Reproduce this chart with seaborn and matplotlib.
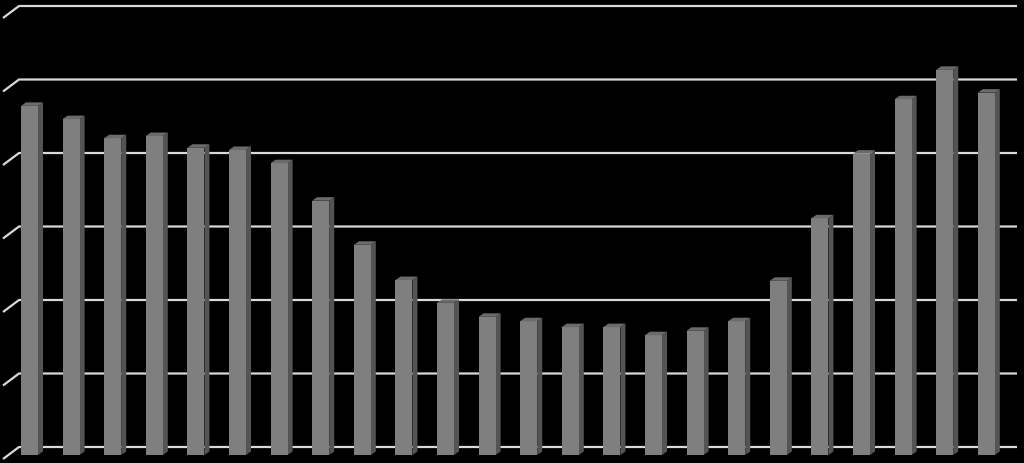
import numpy as np
import pandas as pd
import matplotlib
matplotlib.use("Agg")
import matplotlib.pyplot as plt
from matplotlib.patches import Polygon
import seaborn as sns

# --- Data (grid units) ---
CATEGORIES = [str(i) for i in range(1, 25)]
VALUES = [4.75, 4.57, 4.31, 4.34, 4.18, 4.15, 3.97, 3.46, 2.86, 2.38, 2.07, 1.88,
          1.82, 1.74, 1.74, 1.63, 1.69, 1.82, 2.37, 3.22, 4.10, 4.84, 5.24, 4.93]
GRID_TICKS = [0, 1, 2, 3, 4, 5, 6]

# --- Style ---
FRONT = "#7f7f7f"
SIDE = "#545454"
TOP = "#6b6b6b"
GRID = "#d9d9d9"
BAR_WIDTH = 0.41

# pixel scale of the figure (1024x463) used for the fake 3D offsets
PX_X = 41.6   # px per category
PX_Y = 73.5   # px per value unit


def px_x(p):
    return p / PX_X


def px_y(p):
    return p / PX_Y


def draw_chart():
    sns.set_style("dark")
    fig = plt.figure(figsize=(10.24, 4.63), dpi=100, facecolor="black")
    ax = fig.add_axes([0, 0, 1, 1])
    ax.set_facecolor("black")

    df = pd.DataFrame({"cat": CATEGORIES, "val": VALUES})
    sns.barplot(data=df, x="cat", y="val", color=FRONT, saturation=1,
                width=BAR_WIDTH, linewidth=0, ax=ax, zorder=3)

    # back wall gridlines with the slanted floor edge on the left
    wall_dy = px_y(8)
    x_start = px_x(19 - 29.5)
    x_end = px_x(1017 - 29.5)
    x_slant = px_x(3 - 29.5)
    for t in GRID_TICKS:
        yb = t + wall_dy
        ax.plot([x_slant, x_start, x_end], [yb - px_y(12), yb, yb],
                color=GRID, lw=1.6, zorder=1, solid_capstyle="butt")

    # 3D side faces and caps for each bar
    ddx, ddy = px_x(5), px_y(3.5)
    for patch in list(ax.patches):
        x0 = patch.get_x()
        x1 = x0 + patch.get_width()
        h = patch.get_height()
        side = Polygon([(x1, 0), (x1 + ddx, ddy), (x1 + ddx, h + ddy), (x1, h)],
                       closed=True, facecolor=SIDE, edgecolor="none", zorder=2.9)
        cap = Polygon([(x0, h), (x1, h), (x1 + ddx, h + ddy), (x0 + ddx, h + ddy)],
                      closed=True, facecolor=TOP, edgecolor="none", zorder=3.1)
        ax.add_patch(side)
        ax.add_patch(cap)

    ax.set_xlim(px_x(-29.5), px_x(1024 - 29.5))
    ax.set_ylim(px_y(-8), px_y(463 - 8))
    ax.set_xlabel("")
    ax.set_ylabel("")
    ax.set_xticks([])
    ax.set_yticks([])
    ax.grid(False)
    for s in ax.spines.values():
        s.set_visible(False)

    fig.savefig("out.png", dpi=100, facecolor="black")
    plt.close(fig)


if __name__ == "__main__":
    draw_chart()
